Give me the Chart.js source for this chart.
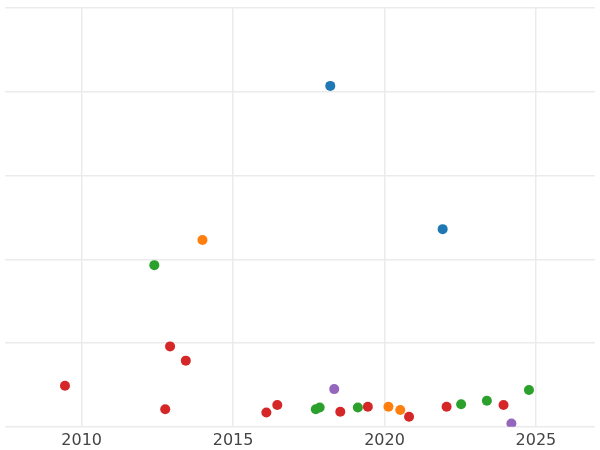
<!DOCTYPE html>
<html><head><script src="https://cdn.jsdelivr.net/npm/chart.js"></script>
<style>html,body{margin:0;padding:0;background:#fff}#w{width:600px;height:450px}</style></head>
<body><div id="w"><canvas id="c"></canvas></div>
<script>
const xTicks=[2010,2015,2020,2025];
const redX=[2009.45,2012.76,2012.92,2013.44,2016.10,2016.46,2018.54,2019.45,2020.81,2022.05,2023.93];
const redY=[0.49,0.21,0.96,0.79,0.17,0.26,0.18,0.24,0.12,0.24,0.26];
const greenX=[2012.40,2017.73,2017.86,2019.12,2022.53,2023.38,2024.77];
const greenY=[1.93,0.21,0.23,0.23,0.27,0.31,0.44];
const orangeX=[2013.99,2020.13,2020.52];
const orangeY=[2.23,0.24,0.20];
const blueX=[2018.21,2021.92];
const blueY=[4.07,2.36];
const purpleX=[2018.34,2024.19];
const purpleY=[0.45,0.04];
const mk=(xs,ys,c)=>({data:xs.map((x,i)=>({x,y:ys[i]})),backgroundColor:c,borderWidth:0,pointRadius:5,pointHoverRadius:5});
new Chart(document.getElementById('c'),{type:'scatter',
data:{datasets:[mk(redX,redY,'#d62728'),mk(greenX,greenY,'#2ca02c'),mk(orangeX,orangeY,'#ff7f0e'),mk(blueX,blueY,'#1f77b4'),mk(purpleX,purpleY,'#9467bd')]},
options:{responsive:true,maintainAspectRatio:false,animation:false,
layout:{padding:{top:8,left:-6,right:-6,bottom:-4}},
plugins:{legend:{display:false},tooltip:{enabled:false}},
scales:{
x:{type:'linear',min:2007.47,max:2026.95,afterBuildTicks:a=>{a.ticks=xTicks.map(v=>({value:v}));},
grid:{color:'#ebebeb',lineWidth:1.5,drawTicks:false},border:{display:false},
ticks:{color:'#444',font:{family:'DejaVu Sans',size:16},padding:4,callback:v=>String(v),maxRotation:0}},
y:{min:0,max:5,display:true,grid:{color:'#ebebeb',lineWidth:1.5,drawTicks:false},border:{display:false},
ticks:{display:false,stepSize:1}}
}}});
</script></body></html>
